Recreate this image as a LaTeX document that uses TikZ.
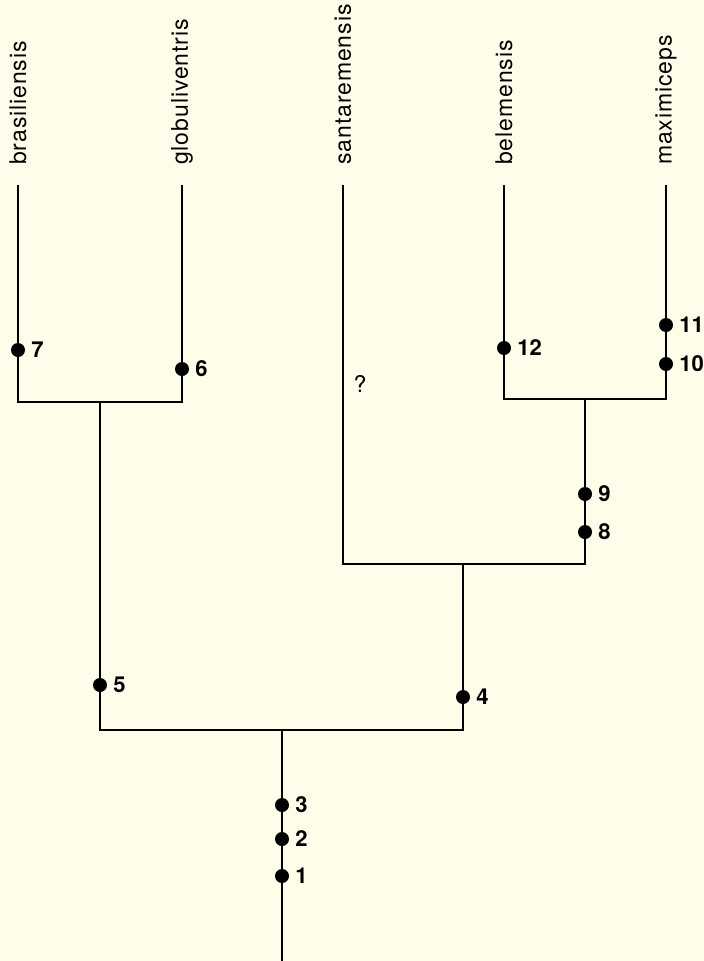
\documentclass[tikz,border=0pt]{standalone}
\usepackage{fontspec}
\setmainfont{TeX Gyre Heros}
\newfontfamily\taxfont[LetterSpace=4]{TeX Gyre Heros}
\definecolor{paper}{RGB}{254,253,233}
\tikzset{
  branch/.style={line width=2pt},
  apo/.style={circle,fill=black,inner sep=0pt,minimum size=14pt},
  num/.style={font=\fontsize{22}{24}\selectfont\bfseries,inner sep=0pt,xshift=6pt},
  taxon/.style={rotate=90,anchor=west,inner sep=0pt,font=\taxfont\fontsize{23}{25}\selectfont}
}
\begin{document}
\begin{tikzpicture}[x=1pt,y=-1pt,every label/.style={num}]
        \fill[paper] (0,0) rectangle (704,961);
        \useasboundingbox (0,0) rectangle (704,961);
        \node[taxon] (bras) at (18,165){brasiliensis};
        \node[taxon] (glob) at (182,165){globuliventris};
        \node[taxon] (sant) at (343,165){santaremensis};
        \node[taxon] (bele) at (504,165){belemensis};
        \node[taxon] (maxi) at (666,165){maximiceps};
        \coordinate (tBras) at (18,185);
        \coordinate (tGlob) at (182,185);
        \coordinate (tSant) at (343,185);
        \coordinate (tBele) at (504,185);
        \coordinate (tMaxi) at (666,185);
        \coordinate (kBG) at (100,402);
        \coordinate (kBM) at (585,399);
        \coordinate (kSBM) at (463,564);
        \coordinate (kRoot) at (282,730);
        \coordinate (base) at (282,961);
        \draw[branch] (tBras) |- (kBG) -| (tGlob);
        \draw[branch] (tBele) |- (kBM) -| (tMaxi);
        \draw[branch] (tSant) |- (kSBM) -| (kBM);
        \draw[branch] (kBG) |- (kRoot) -| (kSBM);
        \draw[branch] (kRoot) -- (base);
        \node[font=\fontsize{23}{25}\selectfont] (unk) at (360,384){?};
        \node[apo,label=right:7] (c7) at (18,350){};
        \node[apo,label=right:6] (c6) at (182,369){};
        \node[apo,label=right:12] (c12) at (504,348){};
        \node[apo,label=right:11] (c11) at (666,325){};
        \node[apo,label=right:10] (c10) at (666,364){};
        \node[apo,label=right:9] (c9) at (585,494){};
        \node[apo,label=right:8] (c8) at (585,532){};
        \node[apo,label=right:5] (c5) at (100,685){};
        \node[apo,label=right:4] (c4) at (463,697){};
        \node[apo,label=right:3] (c3) at (282,805){};
        \node[apo,label=right:2] (c2) at (282,839){};
        \node[apo,label=right:1] (c1) at (282,876){};
\end{tikzpicture}
\end{document}
